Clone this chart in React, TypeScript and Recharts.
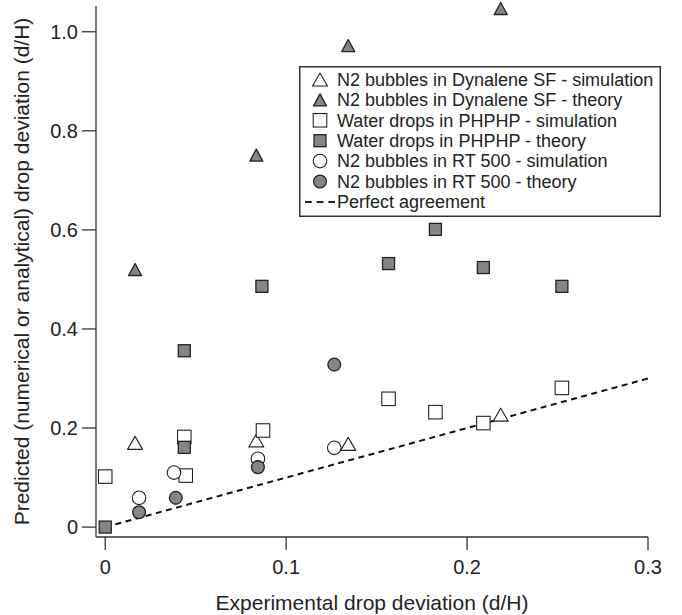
import { ScatterChart, Scatter, XAxis, YAxis, Legend } from "recharts"

const FONT = '"Liberation Sans", Arial, Helvetica, sans-serif'
const INK = "#222"
const GREY = "#858585"

// N2 bubbles in Dynalene SF
const dynaleneX = [0.0165, 0.0835, 0.1343, 0.2186]
const dynaleneSim = [0.17, 0.175, 0.168, 0.227]
const dynaleneTheory = [0.52, 0.751, 0.972, 1.047]

// Water drops in PHPHP
const phphpSimX = [0, 0.0437, 0.0445, 0.0872, 0.1566, 0.1825, 0.209, 0.2524]
const phphpSim = [0.102, 0.182, 0.104, 0.195, 0.259, 0.232, 0.21, 0.281]
const phphpTheoryX = [0, 0.0437, 0.0437, 0.0866, 0.1566, 0.1825, 0.209, 0.2524]
const phphpTheory = [0, 0.356, 0.161, 0.486, 0.532, 0.601, 0.524, 0.486]

// N2 bubbles in RT 500
const rtSimX = [0.0187, 0.038, 0.0844, 0.1266]
const rtSim = [0.059, 0.11, 0.138, 0.16]
const rtTheoryX = [0.0187, 0.039, 0.0844, 0.1266]
const rtTheory = [0.03, 0.059, 0.121, 0.328]

// perfect agreement line y = x
const perfectX = [0, 0.3]

const xTicks = [0, 0.1, 0.2, 0.3]
const yTicks = [0, 0.2, 0.4, 0.6, 0.8, 1.0]

type Kind = "triangle" | "square" | "circle" | "dash"

const legendItems: { label: string; kind: Kind; filled: boolean }[] = [
  { label: "N2 bubbles in Dynalene SF - simulation", kind: "triangle", filled: false },
  { label: "N2 bubbles in Dynalene SF - theory", kind: "triangle", filled: true },
  { label: "Water drops in PHPHP - simulation", kind: "square", filled: false },
  { label: "Water drops in PHPHP - theory", kind: "square", filled: true },
  { label: "N2 bubbles in RT 500 - simulation", kind: "circle", filled: false },
  { label: "N2 bubbles in RT 500 - theory", kind: "circle", filled: true },
  { label: "Perfect agreement", kind: "dash", filled: false },
]

const toPoints = (xs: number[], ys: number[]) => xs.map((x, i) => ({ x, y: ys[i] }))

function Marker({ cx, cy, kind, filled }: { cx: number; cy: number; kind: Kind; filled: boolean }) {
  const fill = filled ? GREY : "#fff"
  const sw = filled ? 1.3 : 1.1
  if (kind === "triangle") {
    const w = filled ? 13 : 15
    const h = filled ? 12 : 13
    const pts = `${cx},${cy - h / 2} ${cx + w / 2},${cy + h / 2} ${cx - w / 2},${cy + h / 2}`
    return <polygon points={pts} fill={fill} stroke={INK} strokeWidth={sw} strokeLinejoin="round" />
  }
  if (kind === "square") {
    const s = filled ? 12 : 13.5
    return <rect x={cx - s / 2} y={cy - s / 2} width={s} height={s} fill={fill} stroke={INK} strokeWidth={sw} />
  }
  return <circle cx={cx} cy={cy} r={filled ? 6.4 : 6.8} fill={fill} stroke={INK} strokeWidth={sw} />
}

const shapeOf = (kind: Kind, filled: boolean) => (props: any) =>
  <Marker cx={props.cx} cy={props.cy} kind={kind} filled={filled} />

function LegendBox() {
  return (
    <svg width={362} height={151} style={{ display: "block" }}>
      <rect x={0.75} y={0.75} width={360.5} height={149.5} fill="#fff" stroke="#333" strokeWidth={1.5} />
      {legendItems.map((item, i) => {
        const cy = 13.5 + i * 20.4
        return (
          <g key={item.label}>
            {item.kind === "dash" ? (
              <line x1={6} x2={36} y1={cy} y2={cy} stroke={INK} strokeWidth={2} strokeDasharray="6.7 5" />
            ) : (
              <Marker cx={21} cy={cy} kind={item.kind} filled={item.filled} />
            )}
            <text x={38} y={cy} dy="0.35em" fontSize={18} fontFamily={FONT} fill={INK}>
              {item.label}
            </text>
          </g>
        )
      })}
    </svg>
  )
}

export default function App() {
  const tickStyle = { fontSize: 20, fontFamily: FONT, fill: INK }
  const fmt = (v: number) => (v === 0 ? "0" : v.toFixed(1))

  return (
    <div style={{ position: "absolute", left: 0, top: 0, background: "#fff" }}>
      <ScatterChart width={682} height={615} margin={{ top: 6, right: 34, bottom: 0, left: 0 }}>
        <XAxis
          type="number"
          dataKey="x"
          domain={[-0.0051, 0.3]}
          ticks={xTicks}
          tickFormatter={fmt}
          height={78}
          tickSize={13}
          tickMargin={10}
          stroke="#333"
          strokeWidth={1.3}
          tick={tickStyle}
          label={{
            value: "Experimental drop deviation (d/H)",
            position: "insideBottom",
            offset: 5,
            style: { fontSize: 21, fontFamily: FONT, fill: INK },
          }}
        />
        <YAxis
          type="number"
          dataKey="y"
          domain={[-0.02, 1.052]}
          ticks={yTicks}
          tickFormatter={fmt}
          width={96}
          tickSize={14}
          tickMargin={4}
          stroke="#333"
          strokeWidth={1.3}
          tick={tickStyle}
          label={{
            value: "Predicted (numerical or analytical) drop deviation (d/H)",
            angle: -90,
            position: "insideLeft",
            offset: 22,
            style: { fontSize: 21, fontFamily: FONT, fill: INK, textAnchor: "middle" },
          }}
        />
        <Scatter
          name="Perfect agreement"
          data={toPoints(perfectX, perfectX)}
          line={{ stroke: "#111", strokeWidth: 2, strokeDasharray: "6 4.5" }}
          shape={() => <g />}
          isAnimationActive={false}
        />
        <Scatter name="Dynalene sim" data={toPoints(dynaleneX, dynaleneSim)} shape={shapeOf("triangle", false)} isAnimationActive={false} />
        <Scatter name="Dynalene theory" data={toPoints(dynaleneX, dynaleneTheory)} shape={shapeOf("triangle", true)} isAnimationActive={false} />
        <Scatter name="PHPHP sim" data={toPoints(phphpSimX, phphpSim)} shape={shapeOf("square", false)} isAnimationActive={false} />
        <Scatter name="PHPHP theory" data={toPoints(phphpTheoryX, phphpTheory)} shape={shapeOf("square", true)} isAnimationActive={false} />
        <Scatter name="RT 500 sim" data={toPoints(rtSimX, rtSim)} shape={shapeOf("circle", false)} isAnimationActive={false} />
        <Scatter name="RT 500 theory" data={toPoints(rtTheoryX, rtTheory)} shape={shapeOf("circle", true)} isAnimationActive={false} />
        <Legend
          layout="vertical"
          align="center"
          verticalAlign="middle"
          content={() => <LegendBox />}
          wrapperStyle={{ left: 299, top: 66, width: 362, height: 151 }}
        />
      </ScatterChart>
    </div>
  )
}
